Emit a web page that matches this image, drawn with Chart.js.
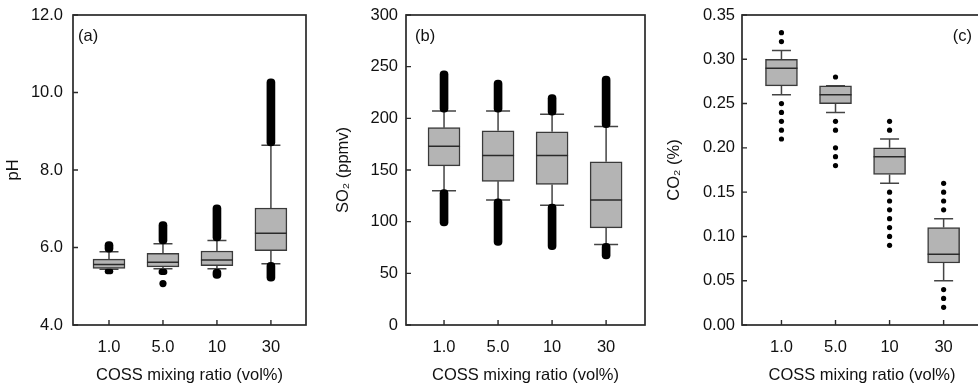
<!DOCTYPE html>
<html>
<head>
<meta charset="utf-8">
<script src="https://cdn.jsdelivr.net/npm/chart.js@4.4.1/dist/chart.umd.min.js"></script>
<style>
  body { margin: 0; background: #fff; }
  #wrap { position: relative; width: 978px; height: 385px; overflow: hidden; }
  canvas { position: absolute; top: 0; }
</style>
</head>
<body>
<div id="wrap">
  <canvas id="chartA" width="320" height="385" style="left:0"></canvas>
  <canvas id="chartB" width="330" height="385" style="left:320px"></canvas>
  <canvas id="chartC" width="345" height="385" style="left:645px"></canvas>
</div>
<script>
// COSS mixing ratio groups
const categories = ['1.0', '5.0', '10', '30'];

// (a) pH
const phTicks = [4, 6, 8, 10, 12];
const phQ1 = [5.46, 5.50, 5.53, 5.92];
const phMedian = [5.56, 5.62, 5.68, 6.37];
const phQ3 = [5.70, 5.85, 5.91, 7.02];
const phLowWhisker = [5.44, 5.45, 5.45, 5.58];
const phHighWhisker = [5.89, 6.10, 6.18, 8.64];
const phLowOutliers = [[5.32, 5.44], [5.30, 5.44], [5.20, 5.44], [5.13, 5.62]];
const phHighOutliers = [[5.88, 6.15], [6.09, 6.67], [6.17, 7.10], [8.62, 10.35]];
const phLoneOutliers = [[], [5.07], [], []];

// (b) SO2 (ppmv)
const so2Ticks = [0, 50, 100, 150, 200, 250, 300];
const so2Q1 = [154, 139, 136, 94];
const so2Median = [173, 164, 164, 121];
const so2Q3 = [191, 188, 187, 158];
const so2LowWhisker = [130, 121, 116, 78];
const so2HighWhisker = [207, 207, 204, 192];
const so2LowOutliers = [[96, 131], [77, 122], [73, 117], [64, 79]];
const so2HighOutliers = [[206, 246], [206, 237], [203, 223], [191, 241]];

// (c) CO2 (%)
const co2Ticks = [0, 0.05, 0.10, 0.15, 0.20, 0.25, 0.30, 0.35];
const co2Q1 = [0.27, 0.25, 0.17, 0.07];
const co2Median = [0.29, 0.26, 0.19, 0.08];
const co2Q3 = [0.30, 0.27, 0.20, 0.11];
const co2LowWhisker = [0.26, 0.24, 0.16, 0.05];
const co2HighWhisker = [0.31, 0.27, 0.21, 0.12];
const co2Outliers = [
    [0.33, 0.32, 0.25, 0.24, 0.23, 0.22, 0.21],
    [0.28, 0.23, 0.22, 0.20, 0.19, 0.18],
    [0.23, 0.22, 0.15, 0.14, 0.13, 0.12, 0.11, 0.10, 0.09],
    [0.16, 0.15, 0.14, 0.13, 0.04, 0.03, 0.02]
];

const FONT = '"Liberation Sans", Arial, sans-serif';
const TEXT = '#111';
const LINE = '#2a2a2a';

// whiskers, caps, medians, frame, inner ticks and panel letter
function boxPlugin(p) {
    return {
        id: 'boxWhisker',
        beforeDatasetsDraw(chart) {
            const { ctx, scales: { x, y } } = chart;
            const half = p.capWidth / 2;
            ctx.save();
            ctx.strokeStyle = '#444';
            ctx.lineWidth = 1.5;
            p.q1.forEach((q, i) => {
                const px = x.getPixelForValue(i + 1);
                const hi = y.getPixelForValue(p.hiW[i]);
                const lo = y.getPixelForValue(p.loW[i]);
                ctx.beginPath();
                ctx.moveTo(px, y.getPixelForValue(p.q3[i]));
                ctx.lineTo(px, hi);
                ctx.moveTo(px, y.getPixelForValue(q));
                ctx.lineTo(px, lo);
                ctx.moveTo(px - half, hi);
                ctx.lineTo(px + half, hi);
                ctx.moveTo(px - half, lo);
                ctx.lineTo(px + half, lo);
                ctx.stroke();
            });
            ctx.restore();
        },
        afterDatasetsDraw(chart) {
            const { ctx, scales: { y } } = chart;
            const boxes = chart.getDatasetMeta(0).data;
            ctx.save();
            ctx.strokeStyle = LINE;
            ctx.lineWidth = 1.5;
            p.median.forEach((m, i) => {
                const bar = boxes[i];
                const py = y.getPixelForValue(m);
                ctx.beginPath();
                ctx.moveTo(bar.x - bar.width / 2, py);
                ctx.lineTo(bar.x + bar.width / 2, py);
                ctx.stroke();
            });
            ctx.restore();
        },
        afterDraw(chart) {
            const { ctx, chartArea: a, scales: { x, y } } = chart;
            ctx.save();
            ctx.strokeStyle = LINE;
            ctx.lineWidth = 1.7;
            ctx.strokeRect(a.left, a.top, a.right - a.left, a.bottom - a.top);
            // ticks pointing into the plot
            ctx.lineWidth = 1.4;
            ctx.beginPath();
            x.ticks.forEach(t => {
                const px = x.getPixelForValue(t.value);
                ctx.moveTo(px, a.bottom);
                ctx.lineTo(px, a.bottom - 5);
            });
            y.ticks.forEach(t => {
                const py = y.getPixelForValue(t.value);
                ctx.moveTo(a.left, py);
                ctx.lineTo(a.left + 5, py);
            });
            ctx.stroke();
            ctx.fillStyle = TEXT;
            ctx.font = '16.5px ' + FONT;
            ctx.textBaseline = 'middle';
            if (p.letterRight) {
                ctx.textAlign = 'right';
                ctx.fillText(p.letter, a.right - p.letterDx, a.top + 21);
            } else {
                ctx.textAlign = 'left';
                ctx.fillText(p.letter, a.left + p.letterDx, a.top + 21);
            }
            ctx.restore();
        }
    };
}

function makePanel(id, p) {
    const datasets = [{
        type: 'bar',
        data: p.q1.map((q, i) => ({ x: i + 1, y: [q, p.q3[i]] })),
        backgroundColor: '#b4b4b4',
        borderColor: '#3a3a3a',
        borderWidth: 1.5,
        borderSkipped: false,
        barThickness: 32,
        grouped: false
    }];
    [p.lowOut, p.highOut].forEach(ranges => {
        if (!ranges) return;
        datasets.push({
            type: 'bar',
            data: ranges.map((r, i) => ({ x: i + 1, y: r })),
            backgroundColor: '#000',
            borderWidth: 0,
            borderSkipped: false,
            borderRadius: 4,
            barThickness: 8,
            grouped: false
        });
    });
    if (p.points) {
        datasets.push({
            type: 'scatter',
            data: p.points.flatMap((vals, i) => vals.map(v => ({ x: i + 1, y: v }))),
            backgroundColor: '#000',
            borderWidth: 0,
            pointRadius: p.pointRadius
        });
    }

    const tickFont = { family: FONT, size: 16.5 };
    const titleFont = { family: FONT, size: 16.5, lineHeight: 1.1 };
    const gridOpts = { offset: false, drawOnChartArea: false, drawTicks: false };

    new Chart(document.getElementById(id), {
        type: 'bar',
        data: { datasets: datasets },
        options: {
            responsive: false,
            animation: false,
            layout: { padding: { top: 15, right: p.padRight, bottom: 0, left: 0 } },
            plugins: { legend: { display: false }, tooltip: { enabled: false } },
            scales: {
                x: {
                    type: 'linear',
                    min: p.xMin,
                    max: p.xMax,
                    offset: false,
                    afterBuildTicks: s => { s.ticks = categories.map((c, i) => ({ value: i + 1 })); },
                    afterFit: s => { s.height = 60; s.paddingLeft = 0; s.paddingRight = 0; },
                    grid: gridOpts,
                    border: { display: false },
                    ticks: {
                        padding: 13, color: TEXT, font: tickFont, maxRotation: 0, autoSkip: false,
                        callback: v => categories[v - 1]
                    },
                    title: {
                        display: true, text: 'COSS mixing ratio (vol%)', color: TEXT,
                        font: titleFont, padding: { top: 0, bottom: 0 }
                    }
                },
                y: {
                    type: 'linear',
                    min: p.ticks[0],
                    max: p.ticks[p.ticks.length - 1],
                    afterBuildTicks: s => { s.ticks = p.ticks.map(v => ({ value: v })); },
                    afterFit: s => { s.width = p.yWidth; s.paddingTop = 0; s.paddingBottom = 0; },
                    grid: gridOpts,
                    border: { display: false },
                    ticks: {
                        padding: p.yPad, color: TEXT, font: tickFont,
                        callback: v => v.toFixed(p.decimals)
                    },
                    title: {
                        display: true, text: p.yTitle, color: TEXT,
                        font: titleFont, padding: { top: p.titlePad, bottom: 0 }
                    }
                }
            }
        },
        plugins: [boxPlugin(p)]
    });
}

makePanel('chartA', {
    q1: phQ1, median: phMedian, q3: phQ3, loW: phLowWhisker, hiW: phHighWhisker,
    lowOut: phLowOutliers, highOut: phHighOutliers, points: phLoneOutliers, pointRadius: 3.6,
    ticks: phTicks, decimals: 1, yTitle: 'pH',
    xMin: 0.333, xMax: 4.65, yWidth: 73, padRight: 14, yPad: 10, titlePad: 4,
    capWidth: 19, letter: '(a)', letterDx: 5
});

makePanel('chartB', {
    q1: so2Q1, median: so2Median, q3: so2Q3, loW: so2LowWhisker, hiW: so2HighWhisker,
    lowOut: so2LowOutliers, highOut: so2HighOutliers,
    ticks: so2Ticks, decimals: 0, yTitle: 'SO₂ (ppmv)',
    xMin: 0.296, xMax: 4.72, yWidth: 86, padRight: 5, yPad: 8, titlePad: 14,
    capWidth: 24, letter: '(b)', letterDx: 9
});

makePanel('chartC', {
    q1: co2Q1, median: co2Median, q3: co2Q3, loW: co2LowWhisker, hiW: co2HighWhisker,
    points: co2Outliers, pointRadius: 2.6,
    ticks: co2Ticks, decimals: 2, yTitle: 'CO₂ (%)',
    xMin: 0.27, xMax: 4.71, yWidth: 97, padRight: 8, yPad: 7, titlePad: 20,
    capWidth: 19, letter: '(c)', letterDx: 10, letterRight: true
});
</script>
</body>
</html>
